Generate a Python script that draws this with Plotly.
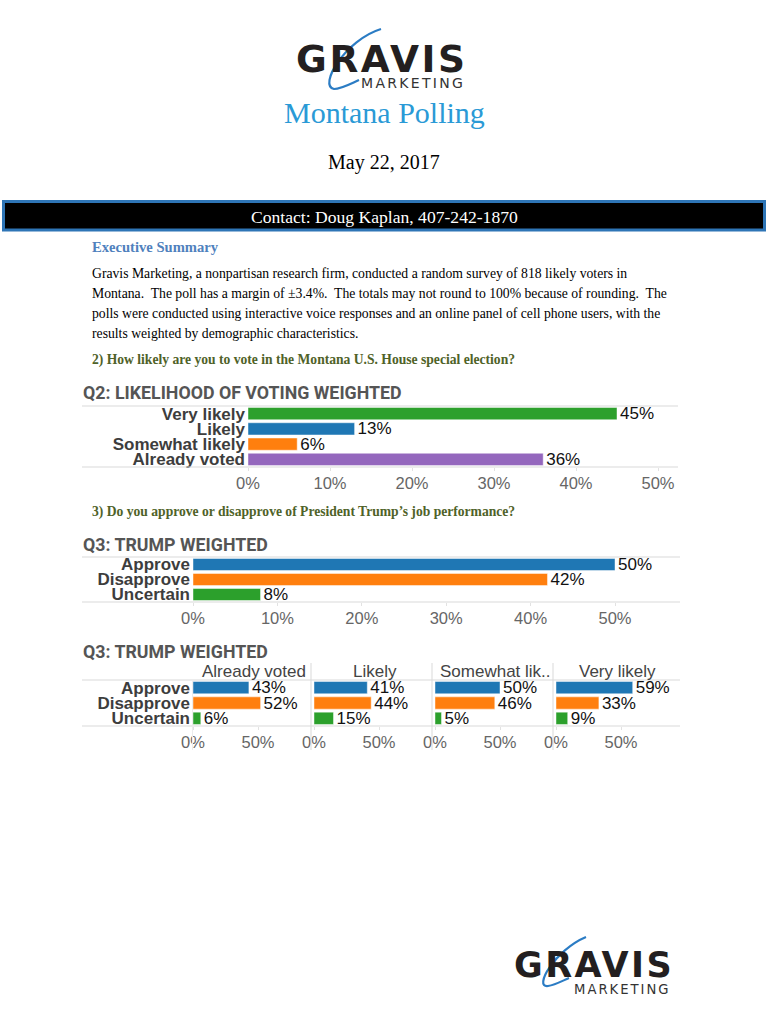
import plotly.graph_objects as go

# ---------------- data ----------------
q2_categories = ["Very likely", "Likely", "Somewhat likely", "Already voted"]
q2_values = [45, 13, 6, 36]
q2_colors = ["#2ca02c", "#1f77b4", "#ff7f0e", "#9467bd"]
q2_ticks = [0, 10, 20, 30, 40, 50]

q3_categories = ["Approve", "Disapprove", "Uncertain"]
q3_values = [50, 42, 8]
q3_colors = ["#1f77b4", "#ff7f0e", "#2ca02c"]
q3_ticks = [0, 10, 20, 30, 40, 50]

facet_groups = ["Already voted", "Likely", "Somewhat lik..", "Very likely"]
facet_approve = [43, 41, 50, 59]
facet_disapprove = [52, 44, 46, 33]
facet_uncertain = [6, 15, 5, 9]
facet_ticks = [0, 50]

paragraph = [
    "Gravis Marketing, a nonpartisan research firm, conducted a random survey of 818 likely voters in",
    "Montana.  The poll has a margin of \u00b13.4%.  The totals may not round to 100% because of rounding.  The",
    "polls were conducted using interactive voice responses and an online panel of cell phone users, with the",
    "results weighted by demographic characteristics.",
]

W, H = 768, 1024


def px(x):
    return x / W


def py(y):
    return 1 - y / H


fig = go.Figure()

SANS = "Liberation Sans, Arial, sans-serif"
SERIF = "Liberation Serif, Times New Roman, serif"
TITLEF = "Roboto, DejaVu Sans, sans-serif"
LOGOF = "DejaVu Sans, sans-serif"

BAR_LINE = dict(color="rgba(255,255,255,0.45)", width=1)

# ---------------- Q2 chart ----------------
fig.add_trace(go.Bar(
    x=q2_values, y=q2_categories, orientation="h",
    marker=dict(color=q2_colors, line=BAR_LINE),
    text=[f"{v}%" for v in q2_values], textposition="outside",
    textfont=dict(family=SANS, size=17, color="#111"),
    constraintext="none", cliponaxis=False,
    xaxis="x", yaxis="y", showlegend=False,
))

# ---------------- Q3 chart ----------------
fig.add_trace(go.Bar(
    x=q3_values, y=q3_categories, orientation="h",
    marker=dict(color=q3_colors, line=BAR_LINE),
    text=[f"{v}%" for v in q3_values], textposition="outside",
    textfont=dict(family=SANS, size=17, color="#111"),
    constraintext="none", cliponaxis=False,
    xaxis="x2", yaxis="y2", showlegend=False,
))

# ---------------- facets ----------------
for i in range(4):
    vals = [facet_approve[i], facet_disapprove[i], facet_uncertain[i]]
    fig.add_trace(go.Bar(
        x=vals, y=q3_categories, orientation="h",
        marker=dict(color=q3_colors, line=BAR_LINE),
        text=[f"{v}%" for v in vals], textposition="outside",
        textfont=dict(family=SANS, size=17, color="#111"),
        constraintext="none", cliponaxis=False,
        xaxis=f"x{i+3}", yaxis=f"y{i+3}", showlegend=False,
    ))

xtickfont = dict(family=SANS, size=16.5, color="#666")
ytickfont = dict(family=SANS, size=17, color="#3d3d3d", weight="bold")


def xax(domain, rng, ticks, anchor):
    return dict(domain=domain, range=rng, tickmode="array", tickvals=ticks,
                ticktext=[f"{t}%" for t in ticks],
                showgrid=False, zeroline=False, showline=False,
                ticks="outside", ticklen=3, tickwidth=1, tickcolor="#e2e2e2",
                ticklabelstandoff=-2, tickfont=xtickfont, fixedrange=True,
                automargin=False, anchor=anchor)


def yax(domain, cats, anchor, show=True):
    return dict(domain=domain, type="category", categoryorder="array", categoryarray=cats,
                tickmode="array", tickvals=cats, ticktext=cats,
                autorange="reversed", showgrid=False, zeroline=False, showline=False,
                ticks="", showticklabels=show, tickfont=ytickfont, anchor=anchor,
                ticklabelstandoff=2, fixedrange=True, automargin=False)


layout = dict(
    width=W, height=H, margin=dict(l=0, r=0, t=0, b=0, pad=0, autoexpand=False),
    paper_bgcolor="white", plot_bgcolor="white",
    bargap=0.2, showlegend=False,
)

# Q2 axes: 0 at x=248, 8.2 px per %
layout["xaxis"] = xax([px(248), px(678)], [0, (678 - 248) / 8.2], q2_ticks, "y")
layout["yaxis"] = yax([py(467), py(406)], q2_categories, "x")

# Q3 axes: 0 at x=193, 8.44 px per %
layout["xaxis2"] = xax([px(193), px(680)], [0, (680 - 193) / 8.44], q3_ticks, "y2")
layout["yaxis2"] = yax([py(602), py(557)], q3_categories, "x2")

facet_starts = [193, 314, 435, 556]
facet_ends = [310, 431, 552, 675]
for i in range(4):
    n = i + 3
    layout[f"xaxis{n}"] = xax([px(facet_starts[i]), px(facet_ends[i])],
                              [0, (facet_ends[i] - facet_starts[i]) / 1.3], facet_ticks, f"y{n}")
    layout[f"yaxis{n}"] = yax([py(726), py(680)], q3_categories, f"x{n}", show=(i == 0))

fig.update_layout(**layout)

# ---------------- shapes ----------------
shapes = []
LINE = "#d9d9d9"


def hline(x0, x1, y, color=LINE, width=1):
    shapes.append(dict(type="line", xref="paper", yref="paper", x0=px(x0), x1=px(x1),
                       y0=py(y), y1=py(y), line=dict(color=color, width=width)))


def vline(x, y0, y1, color=LINE, width=1):
    shapes.append(dict(type="line", xref="paper", yref="paper", x0=px(x), x1=px(x),
                       y0=py(y0), y1=py(y1), line=dict(color=color, width=width)))


# contact banner
shapes.append(dict(type="rect", xref="paper", yref="paper", x0=px(3.5), x1=px(764.5),
                   y0=py(230), y1=py(201.5), fillcolor="black",
                   line=dict(color="#2e75b6", width=3)))

# chart boxes
hline(82, 678, 406)
hline(82, 678, 467)
hline(82, 680, 557)
hline(82, 680, 602)
hline(82, 680, 680)
hline(82, 680, 726)
for xv in [311, 432, 553]:
    vline(xv, 663, 750)
vline(192.5, 680, 750, color="#ececec")


def swoosh(pts, color="#2b7cc4", width=2.2):
    (x0, y0), (c1x, c1y), (c2x, c2y), (x1, y1), (d1x, d1y), (d2x, d2y), (x2, y2) = pts
    path = (f"M {px(x0)},{py(y0)} C {px(c1x)},{py(c1y)} {px(c2x)},{py(c2y)} {px(x1)},{py(y1)} "
            f"C {px(d1x)},{py(d1y)} {px(d2x)},{py(d2y)} {px(x2)},{py(y2)}")
    shapes.append(dict(type="path", xref="paper", yref="paper", path=path,
                       line=dict(color=color, width=width)))


swoosh([(381, 29), (345, 40), (318, 86), (334, 89), (341, 89), (350, 84), (359, 80)])
swoosh([(586, 937), (555, 950), (533, 988), (548, 986), (555, 985), (562, 981), (569, 978)])

fig.update_layout(shapes=shapes)

# ---------------- annotations ----------------
ann = []


def text(x, y, s, size, color="#000", family=SERIF, weight="normal", xanchor="left"):
    ann.append(dict(x=px(x), y=py(y), xref="paper", yref="paper", text=s, showarrow=False,
                    xanchor=xanchor, yanchor="middle",
                    font=dict(family=family, size=size, color=color, weight=weight)))


def spaced(s, ls):
    return f'<span style="letter-spacing:{ls}px">{s}</span>'


# logos
text(382, 59, spaced("GRAVIS", 2.6), 37.5, color="#231f20", family=LOGOF, weight="bold",
     xanchor="center")
text(467, 83, spaced("MARKETING", 2.3), 14, color="#333", family=LOGOF, xanchor="right")
text(594, 965, spaced("GRAVIS", 2.4), 35, color="#231f20", family=LOGOF, weight="bold",
     xanchor="center")
text(673, 989, spaced("MARKETING", 2.0), 13.2, color="#333", family=LOGOF, xanchor="right")

text(384, 112, "Montana Polling", 30, color="#2a9ad6", xanchor="center")
text(384, 162, "May 22, 2017", 20, xanchor="center")
text(384, 217, "Contact: Doug Kaplan, 407-242-1870", 17.6, color="white", xanchor="center")

text(90, 247, "Executive Summary", 14.6, color="#4f81bd", weight="bold")
for k, line in enumerate(paragraph):
    text(90, 273 + k * 20.3, line, 13.7)

text(90, 360, "2) How likely are you to vote in the Montana U.S. House special election?", 13.6,
     color="#4f6228", weight="bold")
text(90, 512, "3) Do you approve or disapprove of President Trump\u2019s job performance?", 13.6,
     color="#4f6228", weight="bold")

text(81, 392, "Q2: LIKELIHOOD OF VOTING WEIGHTED", 17.8, color="#555", family=TITLEF, weight="bold")
text(81, 544, "Q3: TRUMP WEIGHTED", 17.8, color="#555", family=TITLEF, weight="bold")
text(81, 651, "Q3: TRUMP WEIGHTED", 17.8, color="#555", family=TITLEF, weight="bold")

for i, g in enumerate(facet_groups):
    text((facet_starts[i] + facet_ends[i]) / 2 + 2, 671, g, 17, color="#444", family=SANS,
         xanchor="center")

fig.update_layout(annotations=ann)

fig.write_html(
    "out.html",
    config={"displayModeBar": False},
    post_script="document.body.style.margin='0';document.body.style.padding='0';"
                "document.documentElement.style.overflow='hidden';",
)
